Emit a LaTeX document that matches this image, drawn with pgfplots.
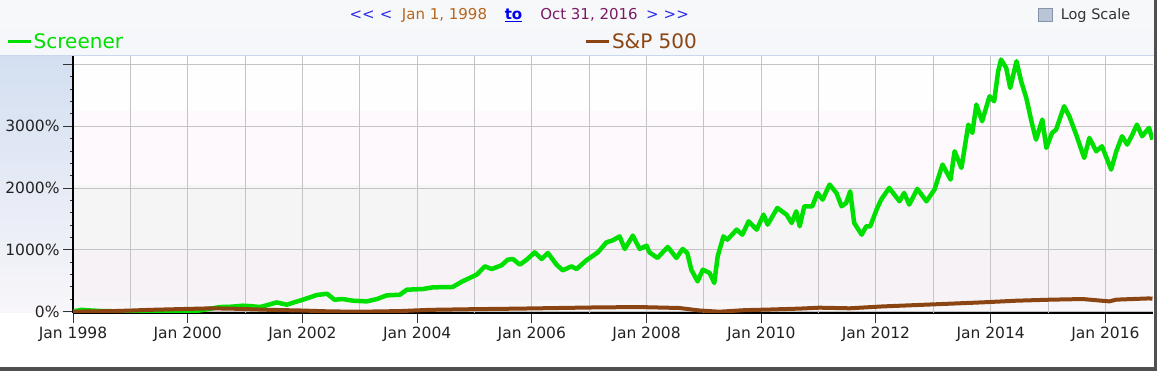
\documentclass[border=0pt]{standalone}
\usepackage{pgfplots}
\pgfplotsset{compat=1.18}
\usepackage{fontspec}
\setmainfont{DejaVu Sans}
\definecolor{scrgreen}{HTML}{00E000}
\definecolor{spbrown}{HTML}{8B4513}
\definecolor{gridgrey}{HTML}{C4C4C4}
\definecolor{ticktext}{HTML}{222222}
\definecolor{navblue}{HTML}{2B2BEE}
\definecolor{linkblue}{HTML}{0000EE}
\definecolor{datebrown}{HTML}{B8661E}
\definecolor{datepurple}{HTML}{7A1A66}
\definecolor{hdrtop}{HTML}{F7F8FA}
\definecolor{hdrmid}{HTML}{CDD6E2}
\definecolor{hdrbot}{HTML}{F5F7FA}
\definecolor{leftblue}{HTML}{D3DFF1}
\definecolor{leftbot}{HTML}{F8F6FA}
\definecolor{bandA}{HTML}{F9F6F9}
\definecolor{bandB}{HTML}{F6F2F6}
\definecolor{bandC}{HTML}{F5F5F5}
\definecolor{bandD}{HTML}{FDF9FD}
\definecolor{bandE}{HTML}{FEFEFF}
\definecolor{framegrey}{HTML}{505050}
\definecolor{sepblue}{HTML}{C9D8EC}
\definecolor{boxfill}{HTML}{B9C5D6}
\definecolor{boxedge}{HTML}{8594AA}
\definecolor{logtext}{HTML}{333333}

\begin{document}
\begin{tikzpicture}
\fill[white] (0bp,0bp) rectangle (1159bp,372bp);
% header
\shade[top color=hdrtop, middle color=hdrmid, bottom color=hdrbot] (0bp,316bp) rectangle (1154bp,372bp);
\fill[sepblue] (0bp,315.5bp) rectangle (1154bp,316.5bp);
% left panel
\shade[top color=leftblue, bottom color=leftbot] (0bp,59bp) rectangle (73bp,315.5bp);
% plot background bands
\fill[bandB] (73bp,59bp) rectangle (1153bp,122.09bp);
\fill[bandA] (73bp,59bp) rectangle (1153bp,71.42bp);
\fill[bandC] (73bp,122.09bp) rectangle (1153bp,186.97bp);
\fill[bandD] (73bp,186.97bp) rectangle (1153bp,260.5bp);
\fill[bandE] (73bp,260.5bp) rectangle (1153bp,315.5bp);
% frame shadow
\fill[framegrey] (1154bp,1.5bp) rectangle (1157bp,372bp);
\fill[framegrey] (0bp,1.5bp) rectangle (1157bp,4.5bp);

% header texts
\node[anchor=base, inner sep=0pt, font=\fontsize{15bp}{18bp}\selectfont, text=navblue] at (371bp,352bp) {<{}<\,\,<};
\node[anchor=base, inner sep=0pt, font=\fontsize{15bp}{18bp}\selectfont, text=datebrown] at (444.5bp,352bp) {Jan 1, 1998};
\node[anchor=base, inner sep=0pt, font=\fontsize{15bp}{18bp}\selectfont\bfseries, text=linkblue] at (513.5bp,352bp) {\underline{to}};
\node[anchor=base, inner sep=0pt, font=\fontsize{15bp}{18bp}\selectfont, text=datepurple] at (589bp,352bp) {Oct 31, 2016};
\node[anchor=base, inner sep=0pt, font=\fontsize{15bp}{18bp}\selectfont, text=navblue] at (667.5bp,352bp) {>\,\,>{}>};
% log scale checkbox
\fill[boxfill, draw=boxedge, line width=0.8bp] (1038.5bp,350.5bp) rectangle (1052.5bp,364bp);
\node[anchor=base, inner sep=0pt, font=\fontsize{14.5bp}{17bp}\selectfont, text=logtext] at (1095.5bp,352bp) {Log Scale};

\begin{axis}[
  at={(73bp,59bp)}, anchor=south west,
  scale only axis, width=1080bp, height=256.5bp,
  xmin=1998, xmax=2016.83, ymin=-21, ymax=4130,
  axis lines*=left,
  axis line style={black, line width=1.2bp},
  tick align=outside,
  major tick length=10bp, minor tick length=3.5bp,
  tick style={color=black!80, line width=1bp},
  xtick={1998,2000,...,2016},
  xticklabels={Jan 1998,Jan 2000,Jan 2002,Jan 2004,Jan 2006,Jan 2008,Jan 2010,Jan 2012,Jan 2014,Jan 2016},
  extra x ticks={1999,2001,...,2015},
  extra x tick labels={},
  extra x tick style={grid=major, major tick length=0pt},
  ytick={0,1000,2000,3000,4000},
  yticklabels={0\%,1000\%,2000\%,3000\%,{}},
  minor y tick num=4,
  grid=major,
  grid style={color=gridgrey, line width=1bp},
  tick label style={font=\fontsize{15.5bp}{18bp}\selectfont, text=ticktext},
  legend columns=2,
  legend style={at={(axis description cs:-0.0620,1.0566)}, anchor=west, draw=none, fill=none, inner sep=0pt,
    font=\fontsize{20bp}{24bp}\selectfont, nodes={inner sep=1.5bp},
    /tikz/every even column/.append style={column sep=460bp}},
  legend image code/.code={\draw[#1, line width=3bp] (0bp,0bp) -- (23bp,0bp);},
]
\addplot[color=scrgreen, line width=4.5bp, line join=round, no markers] coordinates {
(1998.00,5) (1998.15,30) (1998.30,20) (1998.50,10) (1998.82,5) (1999.20,0) (1999.60,5)
(2000.00,5) (2000.21,20) (2000.40,50) (2000.56,75) (2000.75,80) (2000.96,97) (2001.10,90)
(2001.26,75) (2001.40,110) (2001.55,150) (2001.73,113) (2001.85,150) (2002.01,194)
(2002.25,270) (2002.43,290) (2002.56,194) (2002.70,205) (2002.88,178) (2003.12,167)
(2003.30,205) (2003.47,264) (2003.70,275) (2003.82,356) (2004.10,367) (2004.27,394)
(2004.62,400) (2004.79,491) (2005.04,600) (2005.18,734) (2005.30,691) (2005.47,750)
(2005.58,842) (2005.67,853) (2005.79,761) (2005.91,842) (2006.05,960) (2006.17,853)
(2006.28,950) (2006.43,761) (2006.54,669) (2006.69,734) (2006.78,691) (2006.95,831)
(2007.15,960) (2007.30,1122) (2007.41,1155) (2007.53,1219) (2007.62,1015) (2007.76,1231)
(2007.88,1015) (2008.00,1069) (2008.05,960) (2008.19,870) (2008.37,1048) (2008.52,870)
(2008.63,1015) (2008.71,950) (2008.78,680) (2008.89,491) (2008.98,680) (2009.10,627)
(2009.18,465) (2009.24,896) (2009.34,1219) (2009.41,1166) (2009.57,1328) (2009.67,1247)
(2009.78,1462) (2009.92,1328) (2010.04,1571) (2010.11,1409) (2010.28,1679) (2010.44,1571)
(2010.53,1436) (2010.61,1625) (2010.67,1382) (2010.75,1706) (2010.89,1706) (2010.98,1922)
(2011.07,1814) (2011.19,2057) (2011.31,1922) (2011.40,1706) (2011.48,1760) (2011.55,1949)
(2011.62,1436) (2011.75,1247) (2011.83,1382) (2011.90,1382) (2012.01,1652) (2012.09,1814)
(2012.23,2003) (2012.41,1787) (2012.49,1922) (2012.58,1733) (2012.72,1987) (2012.88,1787)
(2013.02,1976) (2013.16,2381) (2013.30,2138) (2013.37,2596) (2013.49,2327) (2013.61,3028)
(2013.68,2894) (2013.75,3352) (2013.85,3082) (2013.98,3487) (2014.06,3406) (2014.13,3891)
(2014.18,4081) (2014.27,3946) (2014.34,3622) (2014.45,4054) (2014.53,3730) (2014.62,3461)
(2014.71,3082) (2014.79,2785) (2014.90,3109) (2014.97,2651) (2015.07,2894) (2015.14,2947)
(2015.28,3325) (2015.37,3163) (2015.49,2866) (2015.63,2489) (2015.72,2813) (2015.84,2596)
(2015.94,2677) (2016.10,2300) (2016.19,2596) (2016.29,2839) (2016.38,2704) (2016.47,2866)
(2016.55,3028) (2016.64,2839) (2016.76,2975) (2016.82,2785)
};
\addlegendentry{\textcolor{scrgreen}{Screener}}

\addplot[color=spbrown, line width=4bp, line join=round, no markers] coordinates {
(1998.00,0) (1998.30,5) (1998.70,10) (1999.05,20) (1999.34,30) (1999.99,45) (2000.39,54)
(2000.74,50) (2001.08,40) (2001.43,30) (2001.95,20) (2002.48,5) (2003.00,0) (2003.70,10)
(2004.22,30) (2004.92,40) (2005.79,50) (2006.48,60) (2007.18,70) (2007.88,75) (2008.57,60)
(2008.92,20) (2009.27,0) (2009.71,25) (2010.14,35) (2010.67,50) (2011.01,65) (2011.54,55)
(2012.11,85) (2012.98,118) (2013.85,151) (2014.45,178) (2015.02,194) (2015.60,205)
(2016.07,167) (2016.19,195) (2016.76,215) (2016.82,210)
};
\addlegendentry{\textcolor{spbrown}{S\&P 500}}
\end{axis}
\end{tikzpicture}
\end{document}
